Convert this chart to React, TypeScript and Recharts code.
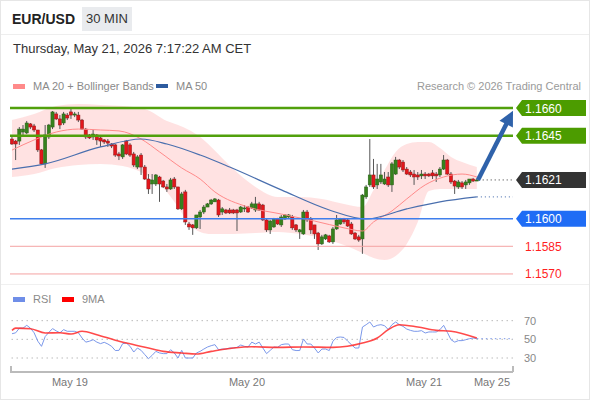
import React from 'react';
import { Area, Bar, ComposedChart, Line, ReferenceLine, XAxis, YAxis } from 'recharts';

// 30 min candles, oldest first
const opens = [
  1.16432, 1.16421, 1.16421, 1.1647, 1.16465, 1.16514, 1.16503, 1.16481, 1.16373, 1.16297,
  1.16443, 1.16497, 1.16568, 1.16541, 1.16519, 1.16562, 1.16579, 1.16562, 1.16562, 1.16535,
  1.16486, 1.16454, 1.16443, 1.16454, 1.16438, 1.16427, 1.16421, 1.16405, 1.164, 1.16351,
  1.16335, 1.16421, 1.164, 1.16351, 1.1628, 1.16345, 1.1628, 1.16215, 1.16188, 1.16188,
  1.16226, 1.16204, 1.16172, 1.16161, 1.16215, 1.16172, 1.16053, 1.16145, 1.15971, 1.15966,
  1.1595, 1.16009, 1.16036, 1.16063, 1.1608, 1.16091, 1.16101, 1.16036, 1.16047, 1.16047,
  1.16047, 1.16047, 1.16036, 1.16053, 1.16063, 1.16058, 1.16047, 1.1608, 1.16074, 1.15993,
  1.15939, 1.15955, 1.15998, 1.15966, 1.15998, 1.16009, 1.16009, 1.15966, 1.15928, 1.15917,
  1.16036, 1.15998, 1.15966, 1.15922, 1.15863, 1.1589, 1.15906, 1.15874, 1.15944, 1.15971,
  1.15998, 1.15993, 1.15971, 1.15922, 1.15901, 1.1589, 1.16118, 1.16183, 1.16237, 1.16183,
  1.16199, 1.16188, 1.16226, 1.16183, 1.16242, 1.16318, 1.16307, 1.16269, 1.16253, 1.16242,
  1.16237, 1.16232, 1.16242, 1.16242, 1.16248, 1.16242, 1.16237, 1.16269, 1.16318, 1.16242,
  1.16204, 1.16172, 1.16194, 1.16183, 1.16194, 1.16215, 1.16204,
];
const highs = [
  1.16443, 1.16427, 1.16497, 1.16508, 1.1653, 1.16519, 1.16514, 1.16481, 1.16378, 1.16508,
  1.16514, 1.16584, 1.16579, 1.16562, 1.16579, 1.16573, 1.16595, 1.16579, 1.16579, 1.16541,
  1.16492, 1.16459, 1.16481, 1.16459, 1.16454, 1.16432, 1.16432, 1.1641, 1.16405, 1.16362,
  1.16405, 1.16427, 1.1641, 1.16362, 1.16345, 1.16356, 1.16291, 1.16242, 1.16242, 1.16242,
  1.16232, 1.1621, 1.16188, 1.16221, 1.16226, 1.16172, 1.16145, 1.16156, 1.15982, 1.15971,
  1.1602, 1.16047, 1.16074, 1.16085, 1.16107, 1.16112, 1.16107, 1.16063, 1.16053, 1.16058,
  1.16053, 1.16053, 1.16069, 1.16074, 1.16069, 1.16091, 1.16118, 1.16091, 1.1608, 1.15998,
  1.15993, 1.16004, 1.16004, 1.1602, 1.16025, 1.16025, 1.1602, 1.15971, 1.15944, 1.16047,
  1.16047, 1.16009, 1.15966, 1.15928, 1.15912, 1.15917, 1.15912, 1.15955, 1.1602, 1.16004,
  1.16004, 1.15998, 1.15982, 1.15928, 1.15912, 1.16134, 1.16183, 1.16432, 1.16324, 1.16297,
  1.16297, 1.16253, 1.16253, 1.16307, 1.16335, 1.16324, 1.16318, 1.1628, 1.16264, 1.16264,
  1.16253, 1.16264, 1.16253, 1.16248, 1.16264, 1.16253, 1.1628, 1.16345, 1.16324, 1.16253,
  1.1621, 1.1621, 1.16204, 1.1621, 1.16215, 1.16221, 1.16215,
];
const lows = [
  1.164, 1.16318, 1.164, 1.16454, 1.16459, 1.16486, 1.1647, 1.16362, 1.16291, 1.16275,
  1.16432, 1.16486, 1.16535, 1.16486, 1.16508, 1.16535, 1.16541, 1.16551, 1.16524, 1.16481,
  1.16432, 1.16432, 1.16427, 1.164, 1.16389, 1.16405, 1.16389, 1.16383, 1.16335, 1.16318,
  1.16324, 1.16345, 1.16335, 1.1628, 1.16269, 1.16237, 1.1621, 1.16134, 1.16134, 1.16177,
  1.16091, 1.16166, 1.16145, 1.16156, 1.16161, 1.16047, 1.16047, 1.15966, 1.15939, 1.15912,
  1.15944, 1.15944, 1.16025, 1.16063, 1.16074, 1.16091, 1.16009, 1.1602, 1.16025, 1.16025,
  1.16025, 1.15933, 1.16031, 1.16036, 1.16031, 1.16053, 1.16036, 1.16042, 1.15987, 1.15928,
  1.15917, 1.1595, 1.15966, 1.15955, 1.15993, 1.16004, 1.15939, 1.15928, 1.1589, 1.15912,
  1.15982, 1.15917, 1.1589, 1.1583, 1.15857, 1.15884, 1.15868, 1.15863, 1.15939, 1.15966,
  1.15971, 1.15955, 1.15912, 1.15884, 1.15874, 1.15809, 1.16107, 1.16172, 1.16161, 1.16161,
  1.16188, 1.16183, 1.16172, 1.16145, 1.16237, 1.16269, 1.16253, 1.16237, 1.16226, 1.16183,
  1.1621, 1.16215, 1.16215, 1.16226, 1.16215, 1.16199, 1.16226, 1.16264, 1.16237, 1.16188,
  1.16134, 1.16161, 1.16161, 1.16161, 1.16183, 1.16199, 1.16204,
];
const closes = [
  1.16405, 1.16405, 1.16486, 1.16486, 1.16519, 1.16497, 1.16481, 1.16373, 1.16297, 1.16454,
  1.16508, 1.16579, 1.16541, 1.16508, 1.16568, 1.16546, 1.16562, 1.16568, 1.16535, 1.16486,
  1.16443, 1.16438, 1.16459, 1.16427, 1.16421, 1.16416, 1.1641, 1.16394, 1.16345, 1.1634,
  1.164, 1.16351, 1.16345, 1.16291, 1.16335, 1.1628, 1.16215, 1.16161, 1.1621, 1.16237,
  1.16188, 1.16172, 1.16161, 1.1621, 1.16172, 1.16053, 1.16134, 1.15982, 1.15955, 1.1595,
  1.1602, 1.16036, 1.16063, 1.1608, 1.16101, 1.16107, 1.1602, 1.16053, 1.16031, 1.16031,
  1.16031, 1.16031, 1.16063, 1.16058, 1.16036, 1.1608, 1.1608, 1.16047, 1.15993, 1.15939,
  1.15987, 1.15998, 1.15971, 1.16009, 1.1602, 1.1602, 1.1595, 1.15939, 1.15939, 1.16036,
  1.15993, 1.15939, 1.15917, 1.15863, 1.15901, 1.15912, 1.15874, 1.15944, 1.15993, 1.15998,
  1.15982, 1.1596, 1.15917, 1.1589, 1.15884, 1.16128, 1.16172, 1.16237, 1.16172, 1.16215,
  1.16237, 1.16215, 1.16183, 1.16297, 1.16318, 1.1628, 1.16264, 1.16242, 1.16237, 1.16226,
  1.16226, 1.16242, 1.16232, 1.16232, 1.16232, 1.16232, 1.16269, 1.16318, 1.16242, 1.16199,
  1.16177, 1.16199, 1.16172, 1.16199, 1.16215, 1.16204, 1.1621,
];

// indicator readings [candle index, value]
const ma20 = [
  [0, 1.16372], [6, 1.16427], [12, 1.1647], [18, 1.16486], [24, 1.16481], [29, 1.16476],
  [35, 1.16432], [40, 1.16362], [46, 1.16275], [51, 1.16215], [55, 1.16145], [64, 1.16063],
  [73, 1.16025], [82, 1.15987], [90, 1.1595], [95, 1.15933], [98, 1.15982], [103, 1.16042],
  [107, 1.16107], [112, 1.16183], [117, 1.16226], [122, 1.16242], [126, 1.16226],
];
const ma50 = [
  [0, 1.16269], [9, 1.16297], [24, 1.16389], [35, 1.16432], [42, 1.16405], [51, 1.16345],
  [59, 1.1628], [73, 1.16156], [86, 1.16047], [96, 1.15998], [107, 1.16053], [116, 1.16091],
  [126, 1.16118],
];
const bandIdx = [0, 6, 12, 18, 24, 30, 36, 42, 45, 48, 51, 54, 60, 66, 72, 78, 84, 90, 95, 98, 101, 104, 107, 110, 113, 116, 119, 122, 126];
const bandUpper = [
  1.16535, 1.16568, 1.16611, 1.16622, 1.16617, 1.16611, 1.16595, 1.1653, 1.16508, 1.16481,
  1.16443, 1.16389, 1.16269, 1.16172, 1.16118, 1.16118, 1.16107, 1.1608, 1.16063, 1.16156,
  1.16264, 1.16362, 1.16405, 1.16416, 1.16416, 1.16383, 1.16335, 1.16307, 1.1628,
];
const bandLower = [
  1.16226, 1.16242, 1.16275, 1.16291, 1.16297, 1.16286, 1.16242, 1.16145, 1.16063, 1.15971,
  1.15928, 1.15917, 1.15917, 1.15922, 1.15928, 1.15917, 1.15895, 1.15857, 1.15814, 1.15787,
  1.15776, 1.15798, 1.15863, 1.15982, 1.1615, 1.16161, 1.16161, 1.16161, 1.16161,
];

const rsi = [
  56, 57, 62, 62, 65, 62, 57, 48, 42.5, 53, 57.5, 61.5, 59, 57, 60.4, 58.6, 58.6, 58.6, 57, 51.4,
  47, 48, 49.6, 47, 45.4, 46.8, 45, 42.5, 38, 38.2, 45.4, 46, 42.5, 36.4, 40.7, 38.2, 33.6, 29.3, 32.9, 37.1,
  35.4, 34.7, 34.7, 38.9, 35.4, 30, 38.2, 30, 30, 30, 35.4, 37.1, 39.6, 41.8, 43.2, 44.3, 38.9, 39.6, 39.6, 40.7,
  40.7, 41.4, 43.9, 42.5, 41.8, 47, 45, 47, 40.7, 34.7, 38.2, 41.8, 41.4, 44.3, 45, 45, 38.9, 38, 38, 50.4,
  45, 45, 40.7, 35.4, 39.6, 39.6, 38, 48, 52, 52.5, 52, 48, 44.3, 40.7, 40.7, 63.2, 65.7, 68.6, 63.2, 65,
  65.7, 64.6, 60.4, 65.7, 68.6, 65.7, 63.9, 61, 59.6, 58.6, 58.6, 59.3, 56.8, 57.9, 57.9, 57.9, 60.4, 65, 57.5, 49.6,
  47, 48.6, 48.6, 49.6, 50.7, 51.4, 50.7,
];
const rsiMa = [
  [0, 59.6], [1, 62], [5, 61.4], [9, 56.8], [13, 57], [16, 55.7], [19, 58.6], [23, 55], [28, 49],
  [31, 46], [37, 40.7], [41, 37.1], [46, 35.4], [50, 34.3], [54, 37.1], [60, 40.7], [65, 42],
  [72, 41.4], [79, 41.8], [87, 41.4], [95, 46], [99, 51.4], [102, 60.4], [105, 65.7], [110, 63.2],
  [115, 59.6], [119, 58.6], [126, 51.4],
];

const levelValues = [1.166, 1.1645, 1.1621, 1.16, 1.1585, 1.157];
const levelKinds = ['res', 'res', 'last', 'sup', 'minor', 'minor'];
const targetPrice = 1.16585;

const dayTicks = [15.7, 63.7, 111.7, 130.1];
const dayLabels = ['May 19', 'May 20', 'May 21', 'May 25'];
const rsiTicks = [30, 50, 70];

const X_MIN = -0.54;
const X_MAX = 135.8;
const FONT = '"Liberation Sans", Arial, Helvetica, sans-serif';

const candles = opens.map((o, i) => ({ i, open: o, high: highs[i], low: lows[i], close: closes[i], rsi: rsi[i] }));
const ma20Rows = ma20.map(([i, v]) => ({ i, v }));
const ma50Rows = ma50.map(([i, v]) => ({ i, v }));
const bandRows = bandIdx.map((i, k) => ({ i, lo: bandLower[k], hi: bandUpper[k] }));
const rsiMaRows = rsiMa.map(([i, v]) => ({ i, v }));
const last = candles[candles.length - 1];
const arrowRows = [{ i: last.i + 0.3, v: last.close }, { i: X_MAX, v: targetPrice }];

const TAG_STYLE: Record<string, { line: string; width: number; bg?: string; text: string }> = {
  res: { line: '#51a00c', width: 2.5, bg: '#4c9c00', text: '#fff' },
  last: { line: 'none', width: 0, bg: '#333333', text: '#fff' },
  sup: { line: '#3f7eec', width: 1.5, bg: '#1f6cf5', text: '#fff' },
  minor: { line: '#f4a3a3', width: 1, text: '#ff1f1f' },
};

function Candle(props: any) {
  const { x, y, width, height, payload } = props;
  if (x == null || !payload) return null;
  const top = Math.min(y, y + height);
  const bot = Math.max(y, y + height);
  const span = payload.high - payload.low || 1;
  const toY = (v: number) => top + ((payload.high - v) / span) * (bot - top);
  const cx = x + width / 2;
  const up = payload.close >= payload.open;
  const bt = toY(Math.max(payload.open, payload.close));
  const bb = toY(Math.min(payload.open, payload.close));
  return (
    <g>
      <line x1={cx} x2={cx} y1={top} y2={bot} stroke="#555" strokeWidth={1} />
      <rect
        x={cx - 1.6}
        y={bt}
        width={3.2}
        height={Math.max(1, bb - bt)}
        fill={up ? '#36821d' : '#e3161b'}
        stroke={up ? '#2a5f18' : '#8e1b1b'}
        strokeWidth={0.5}
      />
    </g>
  );
}

function priceTag(value: number, kind: string) {
  const st = TAG_STYLE[kind];
  return (props: any) => {
    const vb = props.viewBox || {};
    const x0 = vb.x + vb.width + 3;
    const yc = vb.y;
    const text = value.toFixed(4);
    if (!st.bg) {
      return (
        <text x={x0 + 9} y={yc + 4.5} fontSize={12} fill={st.text} fontFamily={FONT}>
          {text}
        </text>
      );
    }
    const d = `M${x0},${yc} L${x0 + 6},${yc - 8} L${x0 + 70},${yc - 8} L${x0 + 70},${yc + 8} L${x0 + 6},${yc + 8} Z`;
    return (
      <g>
        <path d={d} fill={st.bg} />
        <text x={x0 + 9} y={yc + 4.5} fontSize={12} fill={st.text} fontFamily={FONT}>
          {text}
        </text>
      </g>
    );
  };
}

// arrowhead drawn at the target point, pointing away from the start point
let arrowStart = { x: 0, y: 0 };
function ArrowDot(props: any) {
  const { cx, cy, index } = props;
  if (index === 0) {
    arrowStart = { x: cx, y: cy };
    return <g key="arrow-0" />;
  }
  const dx = cx - arrowStart.x;
  const dy = cy - arrowStart.y;
  const len = Math.hypot(dx, dy) || 1;
  const ux = dx / len;
  const uy = dy / len;
  const L = 15;
  const W = 7.5;
  const bx = cx - ux * L;
  const by = cy - uy * L;
  const pts = `${cx},${cy} ${bx - uy * W},${by + ux * W} ${bx + uy * W},${by - ux * W}`;
  return (
    <g key="arrow-1">
      <line x1={arrowStart.x} y1={arrowStart.y} x2={bx + ux * 2} y2={by + uy * 2} stroke="#2f62aa" strokeWidth={4.5} />
      <polygon points={pts} fill="#2f62aa" />
    </g>
  );
}

const abs = (left: number, top: number, extra: React.CSSProperties = {}): React.CSSProperties => ({
  position: 'absolute',
  left,
  top,
  ...extra,
});

export default function App() {
  return (
    <div style={{ position: 'fixed', left: 0, top: 0, width: 590, height: 400, background: '#fff', fontFamily: FONT, overflow: 'hidden' }}>
      {/* header */}
      <div style={abs(12, 11, { fontSize: 14, fontWeight: 'bold', color: '#222' })}>EUR/USD</div>
      <div style={abs(82, 7, { width: 50, height: 24, lineHeight: '24px', textAlign: 'center', background: '#e9ebee', fontSize: 13, color: '#333' })}>
        30 MIN
      </div>
      <div style={abs(0, 34, { width: 590, height: 1, background: '#eeeeee' })} />
      <div style={abs(13, 41, { fontSize: 13, color: '#333' })}>Thursday, May 21, 2026 7:17:22 AM CET</div>

      {/* legend */}
      <div style={abs(13, 84, { width: 12, height: 5, background: '#ff8a8a' })} />
      <div style={abs(33, 80, { fontSize: 11, color: '#8a8a8a' })}>MA 20 + Bollinger Bands</div>
      <div style={abs(156, 84, { width: 12, height: 4, background: '#2d5b9f' })} />
      <div style={abs(176, 80, { fontSize: 11, color: '#8a8a8a' })}>MA 50</div>
      <div style={abs(0, 80, { width: 581, textAlign: 'right', fontSize: 11, color: '#9a9a9a' })}>
        Research © 2026 Trading Central
      </div>

      {/* price chart */}
      <div style={abs(0, 0)}>
        <ComposedChart width={590} height={290} data={candles} margin={{ top: 97, right: 77, bottom: 5, left: 10 }}>
          <XAxis type="number" dataKey="i" domain={[X_MIN, X_MAX]} allowDataOverflow hide />
          <YAxis type="number" domain={[1.1564, 1.1666]} allowDataOverflow hide />
          <Area
            data={bandRows}
            dataKey={(d: any) => [d.lo, d.hi]}
            type="monotone"
            stroke="none"
            fill="#ffdfdf"
            fillOpacity={0.9}
            isAnimationActive={false}
          />
          <Line data={ma20Rows} dataKey="v" type="monotone" stroke="#ff8a8a" strokeWidth={1} dot={false} activeDot={false} isAnimationActive={false} />
          <Line data={ma50Rows} dataKey="v" type="monotone" stroke="#4a6fae" strokeWidth={1.2} dot={false} activeDot={false} isAnimationActive={false} />
          {levelValues.map((v, k) => (
            <ReferenceLine
              key={`lvl-${k}`}
              y={v}
              stroke={TAG_STYLE[levelKinds[k]].line}
              strokeWidth={TAG_STYLE[levelKinds[k]].width}
              label={priceTag(v, levelKinds[k])}
            />
          ))}
          <ReferenceLine
            segment={[{ x: last.i + 0.5, y: last.close }, { x: X_MAX, y: last.close }]}
            stroke="#333"
            strokeDasharray="1 3"
          />
          <ReferenceLine
            segment={[{ x: ma50[ma50.length - 1][0], y: ma50[ma50.length - 1][1] }, { x: X_MAX, y: ma50[ma50.length - 1][1] }]}
            stroke="#3a62a8"
            strokeDasharray="1 3"
          />
          <Bar dataKey={(d: any) => [d.low, d.high]} barSize={3} shape={Candle} isAnimationActive={false} />
          <Line data={arrowRows} dataKey="v" stroke="none" dot={ArrowDot} activeDot={false} isAnimationActive={false} />
        </ComposedChart>
      </div>

      <div style={abs(0, 284, { width: 590, height: 1, background: '#f0f0f0' })} />

      {/* RSI legend */}
      <div style={abs(13, 297, { width: 12, height: 5, background: '#6f8ee8' })} />
      <div style={abs(33, 293, { fontSize: 11, color: '#8a8a8a' })}>RSI</div>
      <div style={abs(62, 297, { width: 12, height: 5, background: '#ff0000' })} />
      <div style={abs(82, 293, { fontSize: 11, color: '#8a8a8a' })}>9MA</div>

      {/* RSI chart */}
      <div style={abs(0, 290)}>
        <ComposedChart width={590} height={110} data={candles} margin={{ top: 12, right: 0, bottom: 0, left: 10 }}>
          <XAxis
            type="number"
            dataKey="i"
            domain={[X_MIN, X_MAX]}
            allowDataOverflow
            ticks={dayTicks}
            tickFormatter={(v: number) => dayLabels[dayTicks.indexOf(v)] ?? ''}
            height={28}
            axisLine={{ stroke: '#bbbbbb', strokeWidth: 2 }}
            tickLine={false}
            tickMargin={0}
            tick={{ fill: '#777', fontSize: 11, fontFamily: FONT }}
          />
          <YAxis
            orientation="right"
            width={77}
            domain={[15, 90]}
            ticks={rsiTicks}
            axisLine={false}
            tickLine={false}
            tickMargin={5}
            tick={{ fill: '#888', fontSize: 11, fontFamily: FONT }}
          />
          {rsiTicks.map((v) => (
            <ReferenceLine key={`g-${v}`} y={v} stroke="#bbbbbb" strokeDasharray="1.5 3.5" />
          ))}
          <ReferenceLine
            segment={[{ x: last.i, y: rsi[rsi.length - 1] }, { x: X_MAX, y: rsi[rsi.length - 1] }]}
            stroke="#7b98ea"
            strokeDasharray="1.5 3"
          />
          <Line dataKey="rsi" stroke="#7b98ea" strokeWidth={1} dot={false} activeDot={false} isAnimationActive={false} />
          <Line data={rsiMaRows} dataKey="v" type="monotone" stroke="#ff2a2a" strokeOpacity={0.85} strokeWidth={1.6} dot={false} activeDot={false} isAnimationActive={false} />
        </ComposedChart>
      </div>

      {/* x axis end caps */}
      <div style={abs(10, 366, { width: 2, height: 6, background: '#bbbbbb' })} />
      <div style={abs(512, 366, { width: 2, height: 6, background: '#bbbbbb' })} />

      <div style={{ position: 'absolute', inset: 0, border: '1px solid #e6e6e6', pointerEvents: 'none' }} />
    </div>
  );
}
